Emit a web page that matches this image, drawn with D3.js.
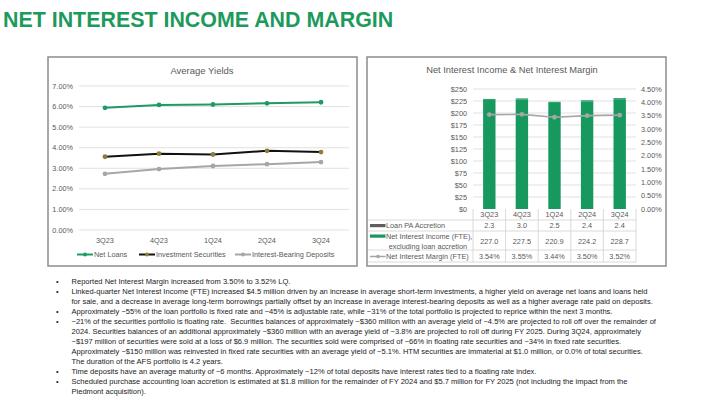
<!DOCTYPE html>
<html>
<head>
<meta charset="utf-8">
<script src="https://cdn.jsdelivr.net/npm/d3@7"></script>
<style>
  body { margin: 0; background: #fff; }
  svg { display: block; font-family: "Liberation Sans", Arial, sans-serif; }
</style>
</head>
<body>
<div id="chart"></div>
<script>
"use strict";
// quarters shared by both charts
const quarters = ["3Q23", "4Q23", "1Q24", "2Q24", "3Q24"];

// Average Yields (fraction)
const netLoans = [0.0594, 0.0608, 0.0610, 0.0616, 0.0621];
const investmentSecurities = [0.0356, 0.0371, 0.0367, 0.0385, 0.0379];
const interestBearingDeposits = [0.0273, 0.0296, 0.0311, 0.0320, 0.0330];
const yieldTicks = [0, 0.01, 0.02, 0.03, 0.04, 0.05, 0.06, 0.07];

// Net Interest Income & Margin
const loanPaAccretion = [2.3, 3.0, 2.5, 2.4, 2.4];
const niiExAccretion = [227.0, 227.5, 220.9, 224.2, 228.7];
const netInterestMargin = [0.0354, 0.0355, 0.0344, 0.0350, 0.0352];
const dollarTicks = [0, 25, 50, 75, 100, 125, 150, 175, 200, 225, 250];
const marginTicks = [0, 0.005, 0.01, 0.015, 0.02, 0.025, 0.03, 0.035, 0.04, 0.045];

const bullets = [
  ["Reported Net Interest Margin increased from 3.50% to 3.52% LQ."],
  ["Linked-quarter Net Interest Income (FTE) increased $4.5 million driven by an increase in average short-term investments, a higher yield on average net loans and loans held",
   "for sale, and a decrease in average long-term borrowings partially offset by an increase in average interest-bearing deposits as well as a higher average rate paid on deposits."],
  ["Approximately ~55% of the loan portfolio is fixed rate and ~45% is adjustable rate, while ~31% of the total portfolio is projected to reprice within the next 3 months."],
  ["~21% of the securities portfolio is floating rate.  Securities balances of approximately ~$360 million with an average yield of ~4.5% are projected to roll off over the remainder of",
   "2024. Securities balances of an additional approximately ~$360 million with an average yield of ~3.8% are projected to roll off during FY 2025. During 3Q24, approximately",
   "~$197 million of securities were sold at a loss of $6.9 million. The securities sold were comprised of ~66% in floating rate securities and ~34% in fixed rate securities.",
   "Approximately ~$150 million was reinvested in fixed rate securities with an average yield of ~5.1%. HTM securities are immaterial at $1.0 million, or 0.0% of total securities.",
   "The duration of the AFS portfolio is 4.2 years."],
  ["Time deposits have an average maturity of ~6 months. Approximately ~12% of total deposits have interest rates tied to a floating rate index."],
  ["Scheduled purchase accounting loan accretion is estimated at $1.8 million for the remainder of FY 2024 and $5.7 million for FY 2025 (not including the impact from the",
   "Piedmont acquisition)."]
];

const green = "#17985f";
const grid = "#d9d9d9";
const axisText = "#595959";

const svg = d3.select("#chart").append("svg")
  .attr("width", 710).attr("height", 399)
  .attr("viewBox", "0 0 710 399");

svg.append("text")
  .attr("x", 3).attr("y", 26.7)
  .attr("fill", "#1c9a5c")
  .style("font-size", "21.4px").style("font-weight", "bold")
  .text("NET INTEREST INCOME AND MARGIN");

// panel frames
[[48, 57, 309, 209], [367, 57, 299, 209]].forEach(([x, y, w, h]) => {
  svg.append("rect").attr("x", x).attr("y", y).attr("width", w).attr("height", h)
    .attr("fill", "#fff").attr("stroke", "#8c8c8c").attr("stroke-width", 1.5);
});

// ---------- Average Yields ----------
const left = svg.append("g");
const x1 = d3.scaleBand().domain(quarters).range([78, 348]);
const y1 = d3.scaleLinear().domain([0, 0.07]).range([230, 86]);
const cx1 = d => x1(d) + x1.bandwidth() / 2;

left.append("text").attr("x", 202).attr("y", 74).attr("text-anchor", "middle")
  .attr("fill", axisText).style("font-size", "9.5px").text("Average Yields");

left.selectAll(".grid").data(yieldTicks).join("line")
  .attr("x1", 79).attr("x2", 349)
  .attr("y1", d => y1(d)).attr("y2", d => y1(d))
  .attr("stroke", grid).attr("stroke-width", 0.8);

left.selectAll(".ylab").data(yieldTicks).join("text")
  .attr("x", 73).attr("y", d => y1(d) + 2.5).attr("text-anchor", "end")
  .attr("fill", axisText).style("font-size", "7.3px")
  .text(d3.format(".2%"));

left.selectAll(".xlab").data(quarters).join("text")
  .attr("x", cx1).attr("y", 242.5).attr("text-anchor", "middle")
  .attr("fill", axisText).style("font-size", "7.3px").text(d => d);

const yieldSeries = [
  { name: "Net Loans", values: netLoans, line: "#1f9a66", dot: "#1f9a66", keyX: 77 },
  { name: "Investment Securities", values: investmentSecurities, line: "#111", dot: "#8d7b3a", keyX: 139 },
  { name: "Interest-Bearing Deposits", values: interestBearingDeposits, line: "#a6a6a6", dot: "#a6a6a6", keyX: 235 }
];
const line1 = d3.line().x((v, i) => cx1(quarters[i])).y(v => y1(v));

yieldSeries.forEach(s => {
  left.append("path").attr("d", line1(s.values))
    .attr("fill", "none").attr("stroke", s.line).attr("stroke-width", 2);
  left.selectAll(null).data(s.values).join("circle")
    .attr("cx", (v, i) => cx1(quarters[i])).attr("cy", v => y1(v)).attr("r", 2.4)
    .attr("fill", s.dot);
  // legend
  left.append("line").attr("x1", s.keyX).attr("x2", s.keyX + 16)
    .attr("y1", 254.5).attr("y2", 254.5).attr("stroke", s.line).attr("stroke-width", 2);
  left.append("circle").attr("cx", s.keyX + 8).attr("cy", 254.5).attr("r", 2).attr("fill", s.dot);
  left.append("text").attr("x", s.keyX + 17).attr("y", 257)
    .attr("fill", axisText).style("font-size", "7.3px").text(s.name);
});

// ---------- Net Interest Income & Net Interest Margin ----------
const right = svg.append("g");
const x2 = d3.scaleBand().domain(quarters).range([473, 636]);
const yL = d3.scaleLinear().domain([0, 250]).range([209, 89]);
const yR = d3.scaleLinear().domain([0, 0.045]).range([209, 89]);
const cx2 = d => x2(d) + x2.bandwidth() / 2;
const barW = 12.4;

right.append("text").attr("x", 512).attr("y", 73).attr("text-anchor", "middle")
  .attr("fill", axisText).style("font-size", "9.3px").text("Net Interest Income & Net Interest Margin");

right.selectAll(".grid").data(dollarTicks.slice(1)).join("line")
  .attr("x1", 473).attr("x2", 636)
  .attr("y1", d => yL(d)).attr("y2", d => yL(d))
  .attr("stroke", grid).attr("stroke-width", 0.8);

right.selectAll(".ylab").data(dollarTicks).join("text")
  .attr("x", 467).attr("y", d => yL(d) + 2.5).attr("text-anchor", "end")
  .attr("fill", axisText).style("font-size", "7.3px").text(d => "$" + d);

right.selectAll(".rlab").data(marginTicks).join("text")
  .attr("x", 641).attr("y", d => yR(d) + 2.5)
  .attr("fill", axisText).style("font-size", "7.3px").text(d3.format(".2%"));

// stacked bars: NII excluding accretion, then accretion on top
right.selectAll(".nii").data(niiExAccretion).join("rect")
  .attr("x", (v, i) => cx2(quarters[i]) - barW / 2).attr("width", barW)
  .attr("y", v => yL(v)).attr("height", v => yL(0) - yL(v))
  .attr("fill", green);
right.selectAll(".acc").data(loanPaAccretion).join("rect")
  .attr("x", (v, i) => cx2(quarters[i]) - barW / 2).attr("width", barW)
  .attr("y", (v, i) => yL(niiExAccretion[i] + v))
  .attr("height", (v, i) => yL(niiExAccretion[i]) - yL(niiExAccretion[i] + v))
  .attr("fill", green).attr("opacity", 0.9);

const line2 = d3.line().x((v, i) => cx2(quarters[i])).y(v => yR(v));
right.append("path").attr("d", line2(netInterestMargin))
  .attr("fill", "none").attr("stroke", "#a6a6a6").attr("stroke-width", 1.6);
right.selectAll(".nim").data(netInterestMargin).join("circle")
  .attr("cx", (v, i) => cx2(quarters[i])).attr("cy", v => yR(v)).attr("r", 2.4)
  .attr("fill", "#a6a6a6");

// data table
const tbl = right.append("g");
const colEdges = quarters.map(q => x2(q)).concat([636]);
const tableLine = "#d0d0d0";
tbl.selectAll(".vline").data(colEdges).join("line")
  .attr("x1", d => d).attr("x2", d => d).attr("y1", 209).attr("y2", 262)
  .attr("stroke", tableLine).attr("stroke-width", 0.8);
[220, 231, 250, 262].forEach(yy => {
  tbl.append("line").attr("x1", 368).attr("x2", 636).attr("y1", yy).attr("y2", yy)
    .attr("stroke", tableLine).attr("stroke-width", 0.8);
});
tbl.selectAll(".hdr").data(quarters).join("text")
  .attr("x", cx2).attr("y", 217).attr("text-anchor", "middle")
  .attr("fill", axisText).style("font-size", "7.3px").text(d => d);

const rows = [
  { y: 228, values: loanPaAccretion.map(d3.format(".1f")) },
  { y: 243.5, values: niiExAccretion.map(d3.format(".1f")) },
  { y: 259, values: netInterestMargin.map(d3.format(".2%")) }
];
rows.forEach(r => {
  tbl.selectAll(null).data(r.values).join("text")
    .attr("x", (v, i) => cx2(quarters[i])).attr("y", r.y).attr("text-anchor", "middle")
    .attr("fill", axisText).style("font-size", "7.3px").text(v => v);
});

tbl.append("rect").attr("x", 370).attr("y", 224).attr("width", 15.5).attr("height", 3.2).attr("fill", "#5f5f5f");
tbl.append("text").attr("x", 386).attr("y", 228).attr("fill", axisText).style("font-size", "7.3px").text("Loan PA Accretion");
tbl.append("rect").attr("x", 370).attr("y", 234.5).attr("width", 15.5).attr("height", 3.2).attr("fill", green);
tbl.append("text").attr("x", 386).attr("y", 238.5).attr("fill", axisText).style("font-size", "7.3px").text("Net Interest Income (FTE),");
tbl.append("text").attr("x", 467).attr("y", 248.5).attr("text-anchor", "end").attr("fill", axisText).style("font-size", "7.3px").text("excluding loan accretion");
tbl.append("line").attr("x1", 370).attr("x2", 385.5).attr("y1", 256.5).attr("y2", 256.5).attr("stroke", "#a6a6a6").attr("stroke-width", 1.5);
tbl.append("circle").attr("cx", 378).attr("cy", 256.5).attr("r", 1.8).attr("fill", "#a6a6a6");
tbl.append("text").attr("x", 386).attr("y", 259).attr("fill", axisText).style("font-size", "7.3px").text("Net Interest Margin (FTE)");

// ---------- commentary ----------
const notes = svg.append("g");
let lineNo = 0;
bullets.forEach(b => {
  const yTop = 283.5 + lineNo * 10.05;
  notes.append("text").attr("x", 56).attr("y", yTop).attr("fill", "#222")
    .style("font-size", "7.5px").text("•");
  b.forEach(t => {
    notes.append("text").attr("x", 71.5).attr("y", 283.5 + lineNo * 10.05)
      .attr("fill", "#222").style("font-size", "7.56px").attr("xml:space", "preserve").text(t);
    lineNo++;
  });
});
</script>
</body>
</html>
